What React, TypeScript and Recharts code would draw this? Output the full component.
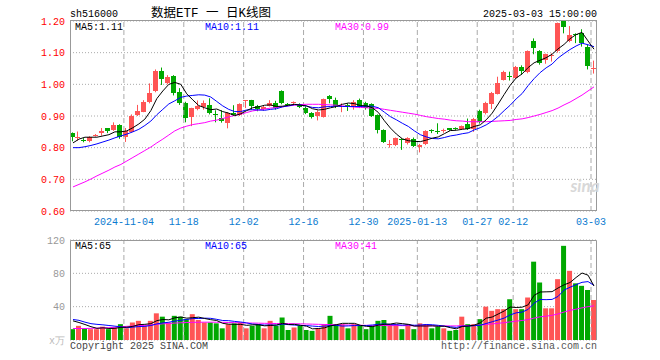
import React from "react";
import {
  ComposedChart,
  Bar,
  Line,
  XAxis,
  YAxis,
  CartesianGrid,
  ReferenceLine,
  Cell,
} from "recharts";

const dates = [
  "2024-10-22", "2024-10-23", "2024-10-24", "2024-10-25", "2024-10-28", "2024-10-29", "2024-10-30", "2024-10-31",
  "2024-11-01", "2024-11-04", "2024-11-05", "2024-11-06", "2024-11-07", "2024-11-08", "2024-11-11", "2024-11-12",
  "2024-11-13", "2024-11-14", "2024-11-15", "2024-11-18", "2024-11-19", "2024-11-20", "2024-11-21", "2024-11-22",
  "2024-11-25", "2024-11-26", "2024-11-27", "2024-11-28", "2024-11-29", "2024-12-02", "2024-12-03", "2024-12-04",
  "2024-12-05", "2024-12-06", "2024-12-09", "2024-12-10", "2024-12-11", "2024-12-12", "2024-12-13", "2024-12-16",
  "2024-12-17", "2024-12-18", "2024-12-19", "2024-12-20", "2024-12-23", "2024-12-24", "2024-12-25", "2024-12-26",
  "2024-12-27", "2024-12-30", "2024-12-31", "2025-01-02", "2025-01-03", "2025-01-06", "2025-01-07", "2025-01-08",
  "2025-01-09", "2025-01-10", "2025-01-13", "2025-01-14", "2025-01-15", "2025-01-16", "2025-01-17", "2025-01-20",
  "2025-01-21", "2025-01-22", "2025-01-23", "2025-01-24", "2025-01-27", "2025-02-05", "2025-02-06", "2025-02-07",
  "2025-02-10", "2025-02-11", "2025-02-12", "2025-02-13", "2025-02-14", "2025-02-17", "2025-02-18", "2025-02-19",
  "2025-02-20", "2025-02-21", "2025-02-24", "2025-02-25", "2025-02-26", "2025-02-27", "2025-02-28", "2025-03-03",
];

const opens = [
  0.846, 0.830, 0.825, 0.822, 0.838, 0.845, 0.861, 0.856, 0.872, 0.834,
  0.850, 0.903, 0.914, 0.945, 0.980, 1.043, 1.005, 1.026, 0.975, 0.942,
  0.896, 0.921, 0.929, 0.935, 0.905, 0.895, 0.879, 0.911, 0.903, 0.946,
  0.949, 0.933, 0.921, 0.933, 0.940, 0.979, 0.938, 0.942, 0.937, 0.926,
  0.910, 0.901, 0.898, 0.962, 0.952, 0.930, 0.935, 0.929, 0.952, 0.940,
  0.937, 0.902, 0.856, 0.807, 0.808, 0.826, 0.815, 0.827, 0.803, 0.811,
  0.855, 0.854, 0.853, 0.861, 0.862, 0.858, 0.875, 0.858, 0.917, 0.908,
  0.938, 0.970, 1.014, 1.027, 1.021, 1.056, 1.038, 1.137, 1.105, 1.077,
  1.092, 1.106, 1.199, 1.137, 1.160, 1.162, 1.118, 1.051,
];

const highs = [
  0.848, 0.851, 0.830, 0.836, 0.843, 0.862, 0.862, 0.880, 0.874, 0.862,
  0.905, 0.935, 0.950, 1.003, 1.047, 1.053, 1.029, 1.029, 0.988, 0.945,
  0.926, 0.949, 0.949, 0.956, 0.918, 0.918, 0.912, 0.934, 0.940, 0.950,
  0.951, 0.935, 0.932, 0.950, 0.948, 0.981, 0.941, 0.946, 0.940, 0.930,
  0.912, 0.918, 0.955, 0.966, 0.958, 0.940, 0.940, 0.950, 0.955, 0.945,
  0.940, 0.905, 0.858, 0.824, 0.832, 0.830, 0.833, 0.832, 0.812, 0.855,
  0.858, 0.877, 0.860, 0.862, 0.864, 0.870, 0.892, 0.894, 0.920, 0.945,
  0.976, 1.024, 1.043, 1.040, 1.058, 1.060, 1.107, 1.145, 1.108, 1.097,
  1.098, 1.195, 1.200, 1.184, 1.161, 1.174, 1.125, 1.075,
];

const lows = [
  0.820, 0.822, 0.817, 0.817, 0.835, 0.838, 0.846, 0.853, 0.828, 0.818,
  0.848, 0.900, 0.912, 0.940, 0.975, 0.998, 1.000, 0.965, 0.935, 0.880,
  0.868, 0.918, 0.920, 0.905, 0.880, 0.879, 0.861, 0.902, 0.900, 0.925,
  0.920, 0.915, 0.917, 0.930, 0.920, 0.937, 0.933, 0.937, 0.925, 0.906,
  0.892, 0.886, 0.895, 0.940, 0.925, 0.912, 0.916, 0.920, 0.925, 0.920,
  0.897, 0.845, 0.815, 0.800, 0.805, 0.793, 0.810, 0.802, 0.785, 0.808,
  0.846, 0.843, 0.847, 0.853, 0.856, 0.856, 0.856, 0.850, 0.876, 0.905,
  0.922, 0.968, 1.012, 1.012, 1.018, 1.030, 1.035, 1.095, 1.062, 1.065,
  1.072, 1.100, 1.161, 1.133, 1.130, 1.119, 1.047, 1.034,
];

const closes = [
  0.835, 0.834, 0.824, 0.833, 0.840, 0.852, 0.854, 0.872, 0.834, 0.853,
  0.900, 0.917, 0.945, 0.972, 1.042, 1.018, 1.024, 0.974, 0.940, 0.893,
  0.924, 0.933, 0.942, 0.909, 0.902, 0.883, 0.909, 0.904, 0.938, 0.949,
  0.932, 0.921, 0.929, 0.942, 0.924, 0.940, 0.936, 0.944, 0.928, 0.911,
  0.896, 0.914, 0.954, 0.955, 0.930, 0.933, 0.931, 0.945, 0.928, 0.924,
  0.900, 0.857, 0.818, 0.810, 0.830, 0.823, 0.830, 0.806, 0.808, 0.853,
  0.852, 0.852, 0.856, 0.855, 0.860, 0.868, 0.859, 0.892, 0.880, 0.942,
  0.974, 1.004, 1.040, 1.025, 1.056, 1.041, 1.105, 1.114, 1.066, 1.095,
  1.094, 1.193, 1.182, 1.157, 1.158, 1.131, 1.057, 1.053,
];

const ma5 = [
  0.815, 0.827, 0.833, 0.833, 0.833, 0.837, 0.841, 0.850, 0.850, 0.853,
  0.863, 0.875, 0.890, 0.917, 0.955, 0.979, 1.000, 1.006, 1.000, 0.970,
  0.951, 0.933, 0.926, 0.920, 0.922, 0.914, 0.909, 0.901, 0.907, 0.917,
  0.926, 0.929, 0.934, 0.935, 0.930, 0.931, 0.934, 0.937, 0.934, 0.932,
  0.923, 0.919, 0.921, 0.926, 0.930, 0.937, 0.941, 0.939, 0.933, 0.932,
  0.926, 0.911, 0.885, 0.862, 0.843, 0.828, 0.822, 0.820, 0.819, 0.824,
  0.830, 0.834, 0.844, 0.854, 0.855, 0.858, 0.860, 0.867, 0.872, 0.888,
  0.909, 0.938, 0.968, 0.997, 1.020, 1.033, 1.053, 1.068, 1.076, 1.084,
  1.095, 1.112, 1.126, 1.144, 1.157, 1.164, 1.137, 1.111,
];

const ma10 = [
  0.800, 0.800, 0.803, 0.807, 0.812, 0.818, 0.824, 0.831, 0.837, 0.843,
  0.850, 0.858, 0.870, 0.884, 0.904, 0.921, 0.938, 0.948, 0.959, 0.963,
  0.965, 0.967, 0.966, 0.960, 0.946, 0.932, 0.921, 0.914, 0.914, 0.919,
  0.920, 0.919, 0.918, 0.921, 0.923, 0.929, 0.932, 0.936, 0.935, 0.931,
  0.927, 0.926, 0.929, 0.930, 0.931, 0.930, 0.930, 0.930, 0.930, 0.931,
  0.931, 0.926, 0.912, 0.898, 0.888, 0.877, 0.867, 0.853, 0.841, 0.834,
  0.829, 0.828, 0.832, 0.837, 0.840, 0.844, 0.847, 0.856, 0.863, 0.872,
  0.884, 0.899, 0.917, 0.934, 0.954, 0.971, 0.996, 1.018, 1.037, 1.052,
  1.064, 1.083, 1.097, 1.110, 1.121, 1.130, 1.125, 1.119,
];

const ma30 = [
  0.676, 0.684, 0.692, 0.701, 0.711, 0.720, 0.729, 0.739, 0.747, 0.758,
  0.769, 0.780, 0.791, 0.802, 0.815, 0.827, 0.840, 0.853, 0.862, 0.868,
  0.873, 0.876, 0.879, 0.884, 0.887, 0.892, 0.897, 0.902, 0.906, 0.911,
  0.916, 0.919, 0.922, 0.925, 0.927, 0.929, 0.932, 0.934, 0.936, 0.937,
  0.937, 0.937, 0.936, 0.935, 0.934, 0.932, 0.930, 0.928, 0.927, 0.926,
  0.925, 0.924, 0.921, 0.918, 0.915, 0.912, 0.909, 0.906, 0.902, 0.898,
  0.895, 0.892, 0.890, 0.887, 0.885, 0.884, 0.882, 0.882, 0.882, 0.882,
  0.883, 0.884, 0.885, 0.886, 0.889, 0.891, 0.895, 0.900, 0.905, 0.911,
  0.917, 0.925, 0.935, 0.944, 0.955, 0.966, 0.979, 0.992,
];

// volume, 万手
const vols = [
  13, 17, 14, 13, 13, 16, 13, 15, 19, 14,
  21, 23, 17, 23, 32, 28, 21, 29, 28, 25,
  31, 24, 21, 21, 20, 14, 19, 20, 21, 14,
  17, 19, 14, 23, 17, 27, 12, 15, 17, 12,
  11, 14, 19, 29, 19, 19, 14, 19, 17, 13,
  17, 23, 24, 19, 19, 13, 19, 13, 20, 19,
  14, 16, 14, 11, 12, 28, 19, 19, 25, 40,
  35, 37, 37, 49, 37, 37, 51, 94, 69, 38,
  38, 73, 113, 83, 68, 65, 60, 48,
];

const vma5 = [
  23, 21, 18.6, 16, 14, 14.6, 13.8, 14, 15.2, 15.4,
  16.4, 18.4, 18.8, 19.6, 23.2, 24.6, 24.2, 26.6, 27.6, 26.2,
  26.8, 27.4, 25.8, 24.4, 23.4, 20, 19, 18.8, 18.8, 17.6,
  18.2, 18.2, 17, 17.4, 18, 20, 18.6, 18.8, 17.6, 16.6,
  13.4, 13.8, 14.6, 17, 18.4, 20, 20, 20, 17.6, 16.4,
  16, 17.8, 18.8, 19.2, 20.4, 19.6, 18.8, 16.6, 16.8, 16.8,
  17, 16.4, 16.6, 14.8, 13.4, 16.2, 16.8, 17.8, 20.6, 26.2,
  27.6, 31.2, 34.8, 39.6, 39, 39.4, 42.2, 53.6, 57.6, 57.8,
  58, 62.4, 66.2, 69, 75, 80.4, 77.8, 64.8,
];

const vma10 = [
  24.6, 23.6, 21.4, 19.6, 18.8, 18.2, 17.4, 16.6, 15.8, 14.7,
  15.5, 16.1, 16.4, 17.4, 19.3, 20.5, 21.3, 22.7, 23.6, 24.7,
  25.7, 25.8, 26.2, 26, 24.8, 23.4, 23.2, 22.3, 21.6, 20.5,
  19.1, 18.6, 17.9, 18.1, 17.8, 19.1, 18.4, 17.9, 17.5, 17.3,
  16.7, 16.2, 16.7, 17.3, 17.5, 16.7, 16.9, 17.3, 17.3, 17.4,
  18, 18.9, 19.4, 18.4, 18.4, 17.8, 18.3, 17.7, 18, 18.6,
  18.3, 17.6, 16.6, 15.8, 15.1, 16.6, 16.6, 17.2, 17.7, 19.8,
  21.9, 24, 26.3, 30.1, 32.6, 33.5, 36.7, 44.2, 48.6, 48.4,
  48.7, 52.3, 59.9, 63.3, 66.4, 69.2, 70.1, 65.5,
];

const vma30 = [
  13.8, 13.8, 13.8, 14, 14.2, 14.6, 14.8, 15.2, 15.8, 16.4,
  16.8, 17.2, 17.5, 18, 18.8, 19.4, 19.8, 20.3, 20.7, 21,
  21.2, 21.3, 21.4, 21.4, 21.3, 21.2, 21, 20.8, 20.6, 20.4,
  20.3, 20.2, 20, 19.9, 19.8, 19.8, 19.7, 19.5, 19.4, 19.2,
  19, 18.8, 18.6, 18.5, 18.3, 18.1, 18, 17.8, 17.7, 17.6,
  17.5, 17.4, 17.4, 17.3, 17.3, 17.2, 17.2, 17.1, 17.1, 17,
  17, 17, 16.9, 16.9, 16.9, 17.2, 17.4, 17.6, 18, 18.7,
  19.3, 20, 20.8, 21.7, 22.6, 23.4, 24.5, 26.3, 27.8, 28.6,
  29.6, 31.3, 33.6, 35.6, 37, 38.6, 40, 41,
];

const tickDates = [
  "2024-11-04", "2024-11-18", "2024-12-02", "2024-12-16", "2024-12-30",
  "2025-01-13", "2025-01-27", "2025-02-12", "2025-03-03",
];
const tickTexts = [
  "2024-11-04", "11-18", "12-02", "12-16", "12-30",
  "2025-01-13", "01-27", "02-12", "03-03",
];

const priceTicks = [0.6, 0.7, 0.8, 0.9, 1.0, 1.1, 1.2];
const volTicks = [40, 80, 120];

const RED = "#ff5555";
const GREEN = "#00a800";
const MONO = "'Liberation Mono', 'DejaVu Sans Mono', monospace";

const rows = dates.map((date, i) => ({
  date,
  open: opens[i],
  high: highs[i],
  low: lows[i],
  close: closes[i],
  vol: vols[i],
  ma5: ma5[i],
  ma10: ma10[i],
  ma30: ma30[i],
  vma5: vma5[i],
  vma10: vma10[i],
  vma30: vma30[i],
}));

function Candle(props: any) {
  const { x, y, width, height } = props;
  const d = props.payload ?? props;
  if (x == null || y == null || d == null) return null;
  const top = Math.min(y, y + height);
  const bottom = Math.max(y, y + height);
  const span = d.high - d.low || 1;
  const toY = (v: number) => top + ((d.high - v) / span) * (bottom - top);
  const color = d.close >= d.open ? RED : GREEN;
  const cx = Math.round(x + width / 2) - 0.5;
  const bTop = Math.round(toY(Math.max(d.open, d.close)));
  const bBot = Math.round(toY(Math.min(d.open, d.close)));
  return (
    <g>
      <line x1={cx} x2={cx} y1={top} y2={bottom} stroke={color} strokeWidth={1} />
      <rect x={cx - 2.5} y={bTop} width={5} height={Math.max(1, bBot - bTop)} fill={color} />
    </g>
  );
}

function DateTick(props: any) {
  const { x, y, payload } = props;
  const k = tickDates.indexOf(payload.value);
  if (k < 0) return <g />;
  const off = payload.offset ?? 3;
  return (
    <text x={x - off} y={y + 12} textAnchor="middle" fill="#0b7bd0" fontSize={10} fontFamily={MONO}>
      {tickTexts[k]}
    </text>
  );
}

const maLine = (key: string, color: string, axis = 0) => (
  <Line
    key={key}
    dataKey={key}
    type="linear"
    stroke={color}
    strokeWidth={1}
    dot={false}
    activeDot={false}
    isAnimationActive={false}
  />
);

const vLines = tickDates.map((d) => (
  <ReferenceLine key={d} x={d} position="start" stroke="#aaa" strokeDasharray="5 3" />
));

export default function App() {
  return (
    <div style={{ position: "absolute", left: 0, top: 0, width: 660, height: 360, background: "#fff" }}>
      <div style={{ position: "absolute", left: 0, top: 0 }}>
        <ComposedChart width={660} height={230} data={rows} margin={{ top: 21, right: 63, bottom: 0, left: 10 }}>
          <CartesianGrid vertical={false} stroke="#aaa" strokeDasharray="1 2" />
          <XAxis
            dataKey="date"
            type="category"
            interval={0}
            height={19}
            tickSize={0}
            tickMargin={2}
            axisLine={false}
            tickLine={false}
            tick={<DateTick />}
          />
          <YAxis
            width={60}
            domain={[0.6, 1.2]}
            allowDataOverflow
            ticks={priceTicks}
            tickFormatter={(v: number) => v.toFixed(2)}
            axisLine={false}
            tickLine={false}
            tickSize={0}
            tickMargin={5}
            tick={{ fill: "#f00", fontSize: 10, fontFamily: MONO }}
          />
          {vLines}
          <Bar
            dataKey={(d: any) => [d.low, d.high]}
            barSize={5}
            shape={<Candle />}
            isAnimationActive={false}
          />
          {maLine("ma30", "#ff00ff")}
          {maLine("ma10", "#0000ff")}
          {maLine("ma5", "#000000")}
        </ComposedChart>
      </div>
      <div style={{ position: "absolute", left: 0, top: 230 }}>
        <ComposedChart width={660} height={130} data={rows} margin={{ top: 10, right: 63, bottom: 20, left: 10 }}>
          <CartesianGrid vertical={false} stroke="#aaa" strokeDasharray="1 2" />
          <XAxis dataKey="date" type="category" hide />
          <YAxis
            width={60}
            domain={[0, 120]}
            ticks={volTicks}
            axisLine={false}
            tickLine={false}
            tickSize={0}
            tickMargin={5}
            tick={{ fill: "#999", fontSize: 10, fontFamily: MONO }}
          />
          {vLines}
          <Bar dataKey="vol" barSize={5} isAnimationActive={false}>
            {rows.map((r, i) => (
              <Cell key={i} fill={r.close >= r.open ? RED : GREEN} />
            ))}
          </Bar>
          {maLine("vma30", "#ff00ff")}
          {maLine("vma10", "#0000ff")}
          {maLine("vma5", "#000000")}
        </ComposedChart>
      </div>
      <svg
        width={660}
        height={360}
        style={{ position: "absolute", left: 0, top: 0, pointerEvents: "none" }}
        fontFamily={MONO}
        fontSize={10}
      >
        <rect x={70.5} y={20.5} width={526} height={190} fill="none" stroke="#999" />
        <path d="M70.5 340 V240.5 H596.5 V340" fill="none" stroke="#999" />
        <text x={70} y={16.5} fill="#000">sh516000</text>
        <text x={151} y={17} fill="#000" fontSize={12.5} fontFamily="'Liberation Mono', 'Noto Sans CJK SC', monospace">
          数据ETF 一 日K线图
        </text>
        <text x={597} y={16.5} fill="#000" textAnchor="end">2025-03-03 15:00:00</text>
        <text x={75} y={30} fill="#000">MA5:1.11</text>
        <text x={205} y={30} fill="#0000ff">MA10:1.11</text>
        <text x={335} y={30} fill="#ff00ff">MA30:0.99</text>
        <text x={75} y={249} fill="#000">MA5:65</text>
        <text x={205} y={249} fill="#0000ff">MA10:65</text>
        <text x={335} y={249} fill="#ff00ff">MA30:41</text>
        <text x={585} y={192} fill="#d8d8d8" fontSize={17} fontWeight="bold" fontStyle="italic" fontFamily="Lato, sans-serif" textAnchor="middle">
          sina
        </text>
        <text x={49} y={344} fill="#bbb">x万</text>
        <text x={70} y={349} fill="#444">Copyright 2025 SINA.COM</text>
        <text x={597} y={349} fill="#555" textAnchor="end">http://finance.sina.com.cn</text>
      </svg>
    </div>
  );
}
